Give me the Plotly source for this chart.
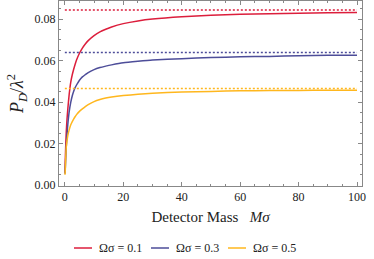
import plotly.graph_objects as go

# Data
mass = [0.05, 0.15, 0.3, 0.5, 0.75, 1, 1.5, 2, 2.5, 3, 3.5, 4, 5, 6, 7, 8, 10, 12, 14, 16, 20, 25, 30, 40, 50, 60, 70, 80, 90, 100]
pd_01 = [0.006, 0.012, 0.019, 0.026, 0.032, 0.0365, 0.0440, 0.0495, 0.0530, 0.0558, 0.0582, 0.0603, 0.0636,
         0.0661, 0.0681, 0.0697, 0.0721, 0.0739, 0.0752, 0.0763, 0.0779, 0.0792, 0.0801, 0.0812, 0.0819,
         0.0824, 0.0827, 0.0829, 0.0831, 0.0833]
pd_03 = [0.0055, 0.0080, 0.0128, 0.0188, 0.0246, 0.0291, 0.0356, 0.0398, 0.0429, 0.0452, 0.0470, 0.0483,
         0.0506, 0.0522, 0.0533, 0.0543, 0.0557, 0.0567, 0.0574, 0.0580, 0.0590, 0.0597, 0.0603, 0.0610,
         0.0615, 0.0619, 0.0621, 0.0624, 0.0626, 0.0627]
pd_05 = [0.0050, 0.0070, 0.0130, 0.0185, 0.0215, 0.0238, 0.0268, 0.0290, 0.0305, 0.0318, 0.0330, 0.0340,
         0.0356, 0.0368, 0.0379, 0.0388, 0.0403, 0.0413, 0.0420, 0.0425, 0.0432, 0.0438, 0.0443, 0.0449,
         0.0452, 0.0455, 0.0456, 0.0457, 0.0458, 0.0458]
asym_x = [0, 100]
asymptotes = [0.0845, 0.0640, 0.0466]
labels = ["Ωσ = 0.1", "Ωσ = 0.3", "Ωσ = 0.5"]
colors = ["#dc1e3c", "#4d4d99", "#ffb71e"]
x_ticks = [0, 20, 40, 60, 80, 100]
y_ticks = [0.00, 0.02, 0.04, 0.06, 0.08]
y_tick_text = ["0.00", "0.02", "0.04", "0.06", "0.08"]

fig = go.Figure()
for ys, a, lab, c in zip([pd_01, pd_03, pd_05], asymptotes, labels, colors):
    fig.add_trace(go.Scatter(x=mass, y=ys, mode="lines", name=lab, showlegend=False,
                             line=dict(color=c, width=1.5, shape="spline", smoothing=0.5)))
    fig.add_trace(go.Scatter(x=asym_x, y=[a, a], mode="lines", showlegend=False,
                             line=dict(color=c, width=1.5, dash="2px,2px")))

font_family = "Liberation Serif"
axis_common = dict(showline=True, linecolor="#888888", linewidth=1, mirror="allticks", ticks="inside",
                   ticklen=4, tickcolor="#888888", showgrid=False, zeroline=False,
                   tickfont=dict(family=font_family, size=12, color="#222222"))

# Legend drawn below the plot (positions in plot-fraction units)
plot_left, plot_w, plot_bottom, plot_h = 59, 303, 186, 185
leg_y = (plot_bottom - 248) / plot_h
for i, (lab, c) in enumerate(zip(labels, colors)):
    x0 = 74 + 77 * i
    fig.add_shape(type="line", xref="paper", yref="paper",
                  x0=(x0 - plot_left) / plot_w, x1=(x0 + 18 - plot_left) / plot_w, y0=leg_y, y1=leg_y,
                  line=dict(color=c, width=1.5))
    fig.add_annotation(xref="paper", yref="paper", x=(x0 + 23 - plot_left) / plot_w, y=leg_y,
                       xanchor="left", yanchor="middle", text=lab, showarrow=False,
                       font=dict(family=font_family, size=12, color="#222222"))

fig.update_layout(
    width=374, height=259,
    margin=dict(l=59, r=12, t=1, b=73),
    paper_bgcolor="white", plot_bgcolor="white",
    font=dict(family=font_family, color="#222222"),
    xaxis=dict(range=[-2.0, 101.7], tickvals=x_ticks,
               minor=dict(ticks="inside", dtick=5, tick0=0, ticklen=2, tickcolor="#888888"),
               title=dict(text="Detector Mass   <i>Mσ</i>", font=dict(size=15, family=font_family), standoff=8),
               **axis_common),
    yaxis=dict(range=[-0.0004, 0.0888], tickvals=y_ticks, ticktext=y_tick_text,
               minor=dict(ticks="inside", dtick=0.005, tick0=0, ticklen=2, tickcolor="#888888"),
               title=dict(text="<i>P</i><sub><i>D</i></sub>/<i>λ</i><sup>2</sup>", font=dict(size=18, family=font_family), standoff=6),
               **axis_common),
    showlegend=False,
)

fig.write_html("out.html", config={"displayModeBar": False}, post_script="document.body.style.margin='0';")
